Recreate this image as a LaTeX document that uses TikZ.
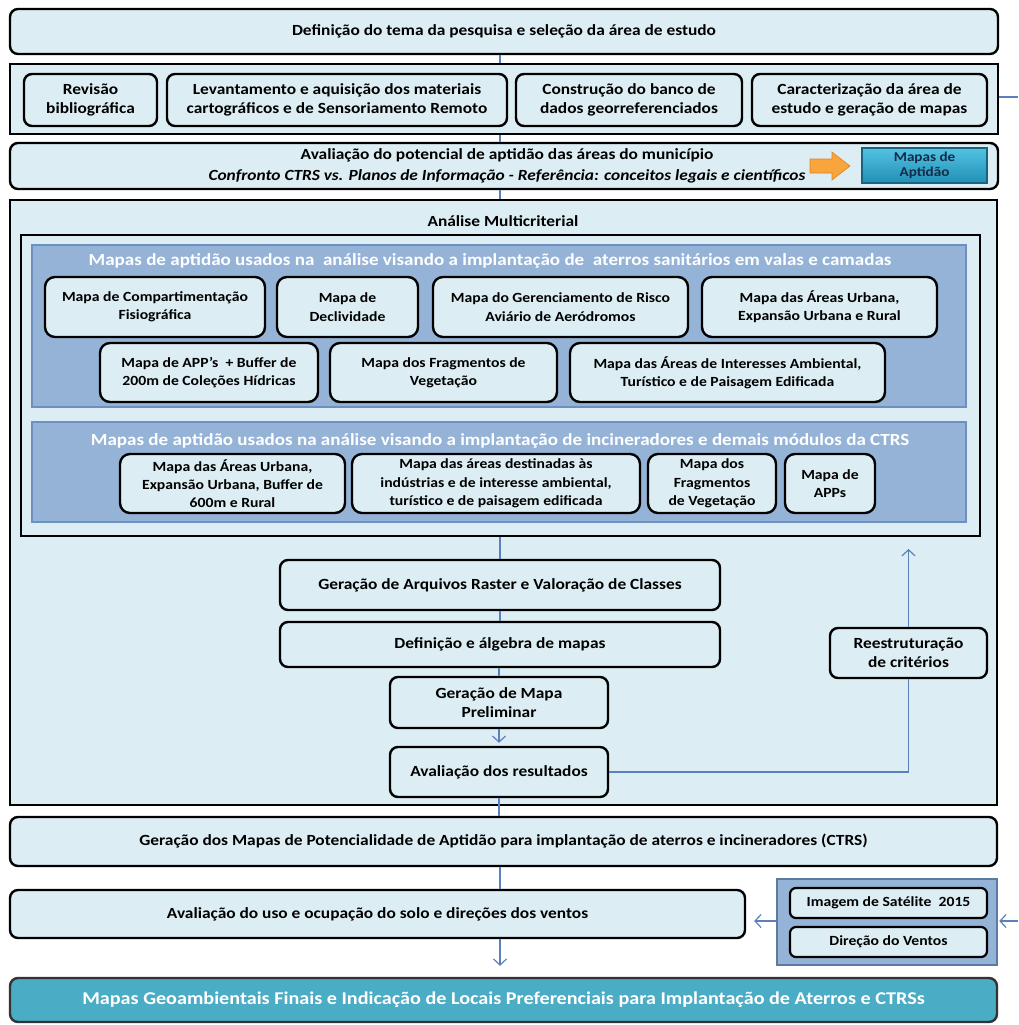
\documentclass[tikz,border=0pt]{standalone}
\usepackage{fontspec}
\setmainfont{Carlito}[FakeStretch=1.12]
\usetikzlibrary{arrows.meta}
\definecolor{lfill}{HTML}{DCEEF4}
\definecolor{panelfill}{HTML}{95B3D7}
\definecolor{paneldraw}{HTML}{6E90C0}
\definecolor{lineblue}{HTML}{5B80BE}
\definecolor{tealfill}{HTML}{4BACC6}
\definecolor{tealtop}{HTML}{52C2E2}
\definecolor{tealbot}{HTML}{228FB6}
\definecolor{navytext}{HTML}{142B48}
\definecolor{orangeA}{HTML}{F7A53C}
\definecolor{orangeB}{HTML}{E5801C}
\begin{document}
\begin{tikzpicture}[x=1pt,y=-1pt,
  bx/.style={draw=black, line width=2.4pt, fill=lfill, rounded corners=8pt, align=center,
    font=\fontsize{15.5}{19}\selectfont\bfseries, inner sep=2pt},
  mbox/.style={bx, rounded corners=10pt, font=\fontsize{14}{18.3}\selectfont\bfseries},
  frame/.style={draw=black, line width=2.4pt, fill=lfill, inner sep=0pt},
  panel/.style={draw=paneldraw, line width=2pt, fill=panelfill, inner sep=0pt},
  ptitle/.style={text=white, font=\fontsize{17}{20}\selectfont\bfseries, inner sep=0pt},
  conn/.style={draw=lineblue, line width=1.2pt},
  arr/.style={conn, -{Straight Barb[length=6pt,width=13pt,line width=1.2pt]}},
]
\useasboundingbox (0,0) rectangle (1018,1025);
\fill[white] (0,0) rectangle (1018,1025);

% top box
\node[bx, minimum width=988, minimum height=45] (n1) at (504,31.5)
  {Definição do tema da pesquisa e seleção da área de estudo};

% row 2
\node[frame, minimum width=988, minimum height=70] (row2) at (504,99) {};
\node[bx, minimum width=133, minimum height=52] (rev) at (90.5,100) {Revisão\\bibliográfica};
\node[bx, minimum width=340, minimum height=52] (lev) at (337,100) {Levantamento e aquisição dos materiais\\cartográficos e de Sensoriamento Remoto};
\node[bx, minimum width=226, minimum height=52] (con) at (629,100) {Construção do banco de\\dados georreferenciados};
\node[bx, minimum width=235, minimum height=52] (car) at (869.5,100) {Caracterização da área de\\estudo e geração de mapas};
\coordinate (rout) at (1018,97);

% row 3
\node[bx, minimum width=988, minimum height=46] (row3) at (504,166) {};
\node[align=center, font=\fontsize{15.5}{20.5}\selectfont\bfseries, inner sep=0pt] (row3t) at (507,166)
  {Avaliação do potencial de aptidão das áreas do município\\\textit{Confronto CTRS vs. Planos de Informação - Referência: conceitos legais e científicos}};
\fill[orangeA, draw=orangeB, line width=0.6pt] (810,159) -- (832,159) -- (832,152) -- (850,166)
  -- (832,180) -- (832,173) -- (810,173) -- cycle;
\node[draw=tealbot!70!black, line width=1.2pt, top color=tealtop, bottom color=tealbot,
  minimum width=125, minimum height=35, align=center, text=navytext,
  font=\fontsize{13.5}{14.5}\selectfont\bfseries, inner sep=1pt] (apt) at (924.5,165.5) {Mapas de\\Aptidão};

% big box
\node[frame, minimum width=987, minimum height=605] (big) at (503.5,502.5) {};
\node[font=\fontsize{15.5}{19}\selectfont\bfseries, inner sep=0pt] (bigt) at (503,221) {Análise Multicriterial};
\node[frame, line width=2pt, minimum width=959, minimum height=301] (inner) at (500.5,385.5) {};

% panel 1
\node[panel, minimum width=934, minimum height=162] (p1) at (499,326) {};
\node[ptitle] (p1t) at (490,261) {Mapas de aptidão usados na\ \ análise visando a implantação de\ \ aterros sanitários em valas e camadas};
\node[mbox, minimum width=220, minimum height=60] (comp) at (155,307) {Mapa de Compartimentação\\Fisiográfica};
\node[mbox, minimum width=141, minimum height=60] (decl) at (347.5,307) {Mapa de\\Declividade};
\node[mbox, minimum width=255, minimum height=60] (ger) at (560.5,307) {Mapa do Gerenciamento de Risco\\Aviário de Aeródromos};
\node[mbox, minimum width=235, minimum height=60] (urb) at (819.5,307) {Mapa das Áreas Urbana,\\Expansão Urbana e Rural};
\node[mbox, minimum width=218, minimum height=59] (app) at (209,372.5) {Mapa de APP’s\ \ + Buffer de\\200m de Coleções Hídricas};
\node[mbox, minimum width=227, minimum height=59] (frag) at (443.5,372.5) {Mapa dos Fragmentos de\\Vegetação};
\node[mbox, minimum width=315, minimum height=59] (int) at (727.5,372.5) {Mapa das Áreas de Interesses Ambiental,\\Turístico e de Paisagem Edificada};

% panel 2
\node[panel, minimum width=934, minimum height=100] (p2) at (499,472) {};
\node[ptitle] (p2t) at (500,441) {Mapas de aptidão usados na análise visando a implantação de incineradores e demais módulos da CTRS};
\node[mbox, minimum width=225, minimum height=59] (urb6) at (232.5,483.5) {Mapa das Áreas Urbana,\\Expansão Urbana, Buffer de\\600m e Rural};
\node[mbox, minimum width=288, minimum height=59] (dest) at (496,483.5) {Mapa das áreas destinadas às\\indústrias e de interesse ambiental,\\turístico e de paisagem edificada};
\node[mbox, minimum width=128, minimum height=59] (frag2) at (712,483.5) {Mapa dos\\Fragmentos\\de Vegetação};
\node[mbox, minimum width=90, minimum height=59] (apps) at (830,483.5) {Mapa de\\APPs};

% process chain
\node[bx, minimum width=440, minimum height=50] (ras) at (500,585) {Geração de Arquivos Raster e Valoração de Classes};
\node[bx, minimum width=440, minimum height=45] (def) at (500,644.5) {Definição e álgebra de mapas};
\node[bx, minimum width=218, minimum height=51] (prel) at (499,702.5) {Geração de Mapa\\Preliminar};
\node[bx, minimum width=218, minimum height=50] (aval) at (499,772) {Avaliação dos resultados};
\node[bx, minimum width=157, minimum height=50] (reest) at (908.5,653) {Reestruturação\\de critérios};

% lower boxes
\node[bx, minimum width=987, minimum height=49] (gmap) at (503.5,841.5) {Geração dos Mapas de Potencialidade de Aptidão para implantação de aterros e incineradores (CTRS)};
\node[bx, minimum width=735, minimum height=48] (avu) at (377.5,914) {Avaliação do uso e ocupação do solo e direções dos ventos};
\node[draw=paneldraw!85!black, line width=2.5pt, fill=panelfill, minimum width=220, minimum height=86, inner sep=0pt] (sat) at (887,922) {};
\node[bx, rounded corners=6pt, line width=2.2pt, minimum width=197, minimum height=30, font=\fontsize{14}{16}\selectfont\bfseries] (img) at (888.5,903) {Imagem de Satélite\ \ 2015};
\node[bx, rounded corners=6pt, line width=2.2pt, minimum width=197, minimum height=30, font=\fontsize{14}{16}\selectfont\bfseries] (dir) at (888.5,942) {Direção do Ventos};
\coordinate (rin) at (1018,921);
\node[draw=black!80, line width=2.4pt, fill=tealfill, rounded corners=8pt, minimum width=987, minimum height=44,
  text=white, font=\fontsize{18}{21}\selectfont\bfseries] (fin) at (503.5,1000)
  {Mapas Geoambientais Finais e Indicação de Locais Preferenciais para Implantação de Aterros e CTRSs};

% connectors
\draw[conn] (n1.south -| ras.north) -- (row2.north -| ras.north);
\draw[conn] (row2.south -| ras.north) -- (row3.north -| ras.north);
\draw[conn] (row3.south -| ras.north) -- (big.north -| ras.north);
\draw[conn] (row2.east |- rout) -- (rout);
\draw[conn] (inner.south -| ras.north) -- (ras.north);
\draw[conn] (ras.south) -- (def.north);
\draw[conn] (def.south -| prel.north) -- (prel.north);
\draw[arr, shorten >=3pt] (prel.south) -- (aval.north);
\draw[conn] (aval.east) -| (reest.south);
\draw[arr, shorten >=12pt] (reest.north) -- (reest.north |- inner.south);
\draw[conn] (aval.south) -- (gmap.north -| aval.south);
\draw[conn] (gmap.south -| ras.north) -- (avu.north -| ras.north);
\draw[arr, shorten >=11pt] (avu.south -| ras.north) -- (fin.north -| ras.north);
\draw[arr, shorten >=8pt] (sat.west |- rin) -- (avu.east |- rin);
\draw[arr, shorten >=1pt] (rin) -- (sat.east |- rin);
\end{tikzpicture}
\end{document}
